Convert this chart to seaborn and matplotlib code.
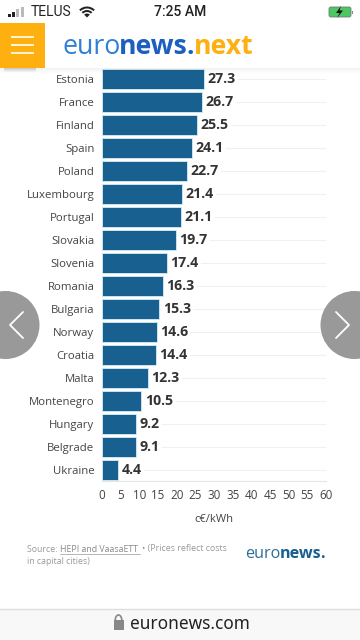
import numpy as np
import pandas as pd
import seaborn as sns
import matplotlib
matplotlib.use("Agg")
import matplotlib.pyplot as plt
from matplotlib.patches import Rectangle, FancyBboxPatch, Circle, Arc, Wedge, Polygon

countries = ["Estonia","France","Finland","Spain","Poland","Luxembourg","Portugal","Slovakia","Slovenia",
             "Romania","Bulgaria","Norway","Croatia","Malta","Montenegro","Hungary","Belgrade","Ukraine"]
prices = [27.3,26.7,25.5,24.1,22.7,21.4,21.1,19.7,17.4,16.3,15.3,14.6,14.4,12.3,10.5,9.2,9.1,4.4]
xticks = list(range(0,65,5))

W,H = 360,640
sns.set_theme(style="white")
plt.rcParams['font.family'] = ['Open Sans','DejaVu Sans']
fig = plt.figure(figsize=(3.6,6.4),dpi=100,facecolor="white")

def axpos(l,t,r,b):
    return [l/W,1-b/H,(r-l)/W,(b-t)/H]

ax = fig.add_axes(axpos(102,68,326,481))
df = pd.DataFrame({"country":countries,"price":prices})
sns.barplot(data=df,y="country",x="price",orient="h",color="#17608f",saturation=1,width=0.87,
            edgecolor="#d5ecf6",linewidth=0.6,ax=ax,zorder=3)
ax.set_xlim(0,60)
ax.set_ylim(len(countries)-0.5,-0.5)
ax.set_xticks(xticks)
ax.set_xlabel("c€/kWh",fontsize=8,color="#444444",labelpad=9)
ax.set_ylabel("")
ax.tick_params(axis="x",length=0,pad=5.5,labelsize=8.4,labelcolor="#444444")
ax.tick_params(axis="y",length=0,pad=5.5,labelsize=8.2,labelcolor="#444444")
for s in ["top","left","right"]:
    ax.spines[s].set_visible(False)
ax.spines["bottom"].set_color("#e6e6e6")
ax.spines["bottom"].set_linewidth(0.8)
ax.grid(axis="y",color="#f0f0f0",linewidth=0.8,zorder=0)
ax.set_axisbelow(True)
for i,v in enumerate(prices):
    t = ax.annotate(f"{v}",(v,i),xytext=(2.6,0),textcoords="offset points",va="center",ha="left",
                fontsize=10.2,fontweight="bold",color="#333333",zorder=4)
    t.set_bbox(dict(facecolor="white",edgecolor="none",pad=1.5))

# page chrome in pixel coordinates
ov = fig.add_axes([0,0,1,1],zorder=10)
ov.set_xlim(0,W); ov.set_ylim(H,0); ov.axis("off"); ov.patch.set_alpha(0)

# header
for k,a in enumerate([0.05,0.04,0.03,0.02,0.01]):
    ov.add_patch(Rectangle((0,68+k),W,1.2,color="k",alpha=a,lw=0))
ov.add_patch(Rectangle((0,0),W,68,color="white",lw=0))
for k,a in enumerate([0.18,0.13,0.08,0.04]):
    ov.add_patch(Rectangle((4,68+k),32,1.2,color="k",alpha=a,lw=0))
ov.add_patch(Rectangle((0,23),45,45,color="#fdb010",lw=0))
for y in (37,45,53):
    ov.add_patch(Rectangle((11,y-1),23,2,color="#fff3d0",lw=0))

# status bar
for k,(h,c) in enumerate(zip([3,5,8,10],["#222222","#222222","#bbbbbb","#bbbbbb"])):
    ov.add_patch(Rectangle((8+k*4.2,16.5-h),3,h,color=c,lw=0))
ov.text(31,12,"TELUS",fontsize=10,color="#222222",va="center",family="Roboto")
ov.text(180,12,"7:25 AM",fontsize=10,color="#222222",va="center",ha="center",fontweight="medium",family="Roboto")
ov.add_patch(Wedge((87,17.5),11,-135,-45,color="#222222",lw=0,width=2))
ov.add_patch(Wedge((87,17.5),7.5,-135,-45,color="#222222",lw=0,width=2))
ov.add_patch(Wedge((87,17.5),4,-135,-45,color="#222222",lw=0))
ov.add_patch(FancyBboxPatch((329,7),22,10,boxstyle="round,pad=0,rounding_size=2",fc="#4cc764",ec="#777777",lw=0.6))
ov.add_patch(Rectangle((352,10.5),1.2,3,color="#888888",lw=0))
ov.add_patch(Polygon([[341,6],[336,13],[339.5,13],[337,18],[343,10.5],[339.5,10.5]],color="#111111",lw=0))

# logos built from adjacent text runs
def runs(x,y,parts,size,ax_=ov):
    r = fig.canvas.get_renderer()
    for s,c,w in parts:
        t = ax_.text(x,y,s,color=c,fontsize=size,fontweight=w,va="baseline",ha="left",family="Open Sans")
        bb = t.get_window_extent(r)
        x += bb.width*0.98
runs(62,53.5,[("euro","#2f7fd6","normal"),("news","#1c5fc0","bold"),(".","#1c5fc0","bold"),("next","#fdb010","bold")],19.2)
runs(245,558,[("euro","#2b6f94","normal"),("news","#17608f","bold"),(".","#17608f","bold")],11.6)

# source
ov.text(27,549,"Source: ",fontsize=6.3,color="#999999",va="center")
ov.text(60,549,"HEPI and VaasaETT",fontsize=6.3,color="#888888",va="center")
ov.plot([60,139.5],[553.5,553.5],color="#999999",lw=0.5)
ov.text(142,549,"• (Prices reflect costs",fontsize=6.3,color="#999999",va="center")
ov.text(27,562,"in capital cities)",fontsize=6.3,color="#999999",va="center")

# nav arrows
for cx,pts in ((5.5,[(23,312),(10,325),(23,338)]),(354.5,[(336,312),(349,325),(336,338)])):
    ov.add_patch(Circle((cx,325),34,color="#999999",lw=0))
    ov.plot(*zip(*pts),color="white",lw=1.3)

# address bar
ov.add_patch(Rectangle((0,609),W,31,color="#f8f8f8",lw=0))
ov.plot([0,W],[609,609],color="#dddddd",lw=1)
ov.add_patch(Rectangle((113.5,620),10,10,color="#888888",lw=0))
ov.add_patch(Arc((118.5,620),6.5,10,theta1=180,theta2=360,color="#888888",lw=1.2))
ov.text(130,624,"euronews.com",fontsize=12.4,color="#222222",va="center",family="Noto Sans")

fig.savefig("out.png",dpi=100)
